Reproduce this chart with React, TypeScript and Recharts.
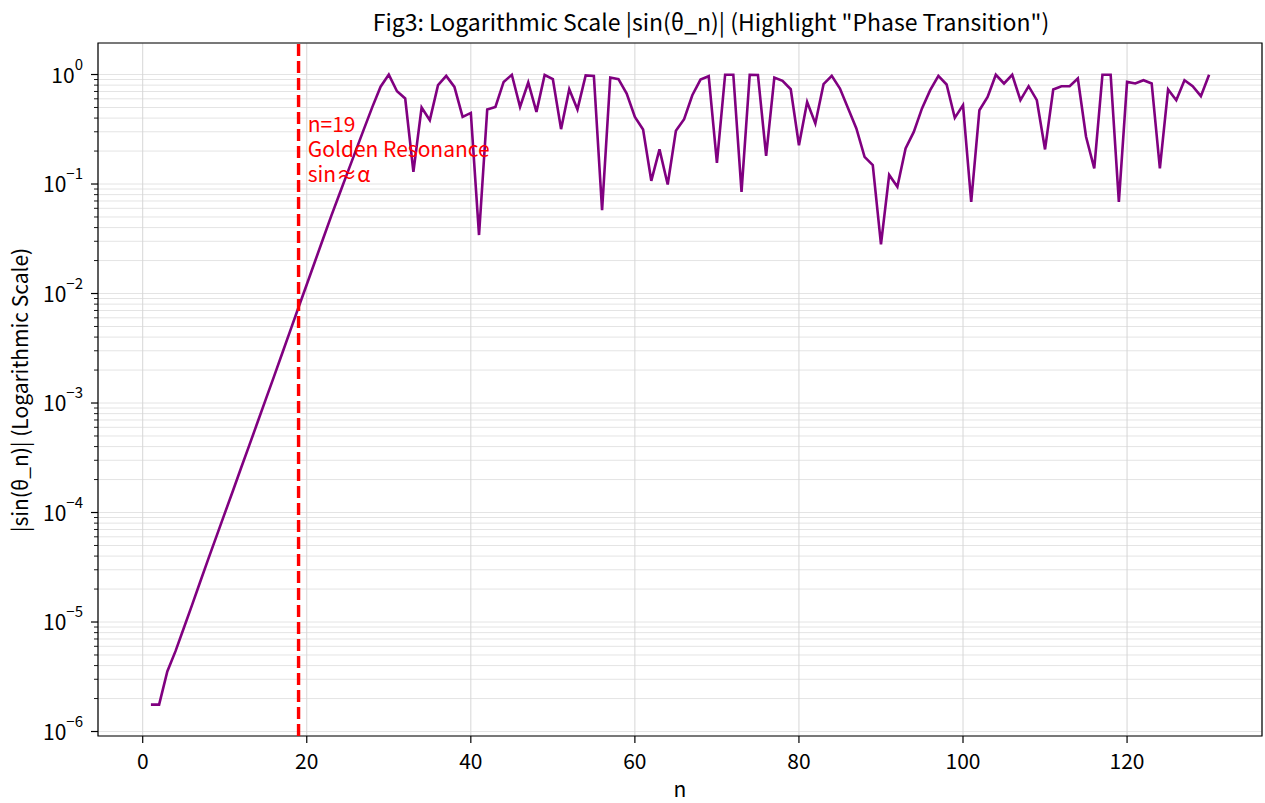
import {
  CartesianGrid,
  Line,
  LineChart,
  ReferenceArea,
  ReferenceDot,
  ReferenceLine,
  XAxis,
  YAxis,
} from "recharts";

const FONT = "'Noto Sans CJK SC', 'Noto Sans', sans-serif";

// n = 1..130
const nValues = [
  1, 2, 3, 4, 5, 6, 7, 8, 9, 10, 11, 12, 13, 14, 15, 16, 17, 18, 19, 20,
  21, 22, 23, 24, 25, 26, 27, 28, 29, 30, 31, 32, 33, 34, 35, 36, 37, 38, 39, 40,
  41, 42, 43, 44, 45, 46, 47, 48, 49, 50, 51, 52, 53, 54, 55, 56, 57, 58, 59, 60,
  61, 62, 63, 64, 65, 66, 67, 68, 69, 70, 71, 72, 73, 74, 75, 76, 77, 78, 79, 80,
  81, 82, 83, 84, 85, 86, 87, 88, 89, 90, 91, 92, 93, 94, 95, 96, 97, 98, 99, 100,
  101, 102, 103, 104, 105, 106, 107, 108, 109, 110, 111, 112, 113, 114, 115, 116, 117, 118, 119, 120,
  121, 122, 123, 124, 125, 126, 127, 128, 129, 130,
];

// |sin(theta_n)|
const sinValues = [
  1.76e-6, 1.76e-6, 3.54e-6, 5.42e-6, 8.78e-6, 1.42e-5, 2.32e-5, 3.77e-5, 6.08e-5, 9.82e-5,
  1.58e-4, 2.56e-4, 4.13e-4, 6.67e-4, 1.08e-3, 1.74e-3, 2.83e-3, 4.61e-3, 7.5e-3, 0.0121,
  0.0196, 0.0318, 0.0514, 0.0816, 0.129, 0.204, 0.322, 0.506, 0.774, 0.998,
  0.704, 0.604, 0.129, 0.5, 0.383, 0.799, 0.971, 0.77, 0.41, 0.446,
  0.0342, 0.48, 0.506, 0.856, 0.995, 0.506, 0.845, 0.456, 0.99, 0.906,
  0.317, 0.734, 0.48, 0.98, 0.97, 0.0578, 0.939, 0.906, 0.671, 0.41,
  0.315, 0.107, 0.207, 0.0991, 0.306, 0.391, 0.647, 0.9, 0.965, 0.156,
  0.995, 0.995, 0.0849, 0.995, 0.99, 0.181, 0.939, 0.874, 0.734, 0.226,
  0.562, 0.357, 0.816, 0.971, 0.745, 0.49, 0.322, 0.177, 0.149, 0.0281,
  0.121, 0.0942, 0.211, 0.299, 0.49, 0.719, 0.971, 0.811, 0.402, 0.525,
  0.0688, 0.472, 0.625, 0.995, 0.828, 0.995, 0.583, 0.782, 0.583, 0.207,
  0.73, 0.782, 0.782, 0.919, 0.27, 0.139, 0.995, 0.995, 0.0688, 0.856,
  0.828, 0.887, 0.828, 0.139, 0.73, 0.583, 0.887, 0.782, 0.634, 0.995,
];

const xTicks = [0, 20, 40, 60, 80, 100, 120];
const yMajorTicks = [1e-6, 1e-5, 1e-4, 1e-3, 1e-2, 1e-1, 1];
const yMajorExponents = ["\u22126", "\u22125", "\u22124", "\u22123", "\u22122", "\u22121", "0"];
const minorMultipliers = [2, 3, 4, 5, 6, 7, 8, 9];

const xDomain: [number, number] = [-5.45, 136.45];
const yDomain: [number, number] = [9.1e-7, 1.94];

const transitionN = 19;
const annotationLines = ["n=19", "Golden Resonance", "sin\u2248\u03b1"];

const data = nValues.map((n, i) => ({ n, v: sinValues[i] }));

const yTicks = [
  ...yMajorTicks,
  ...yMajorTicks.flatMap((m) => minorMultipliers.map((k) => k * m)),
]
  .filter((t) => t >= yDomain[0] && t <= yDomain[1])
  .sort((a, b) => a - b);

function majorIndex(v: number) {
  return yMajorTicks.findIndex((m) => Math.abs(v - m) / m < 1e-6);
}

function YTick(props: any) {
  const { x, y, payload } = props;
  const idx = majorIndex(payload.value);
  const major = idx >= 0;
  return (
    <g>
      <line
        x1={x - (major ? 7 : 4)}
        x2={x}
        y1={y}
        y2={y}
        stroke="#000"
        strokeWidth={major ? 1.2 : 0.9}
      />
      {major && (
        <text
          x={x - 15}
          y={y + 8}
          textAnchor="end"
          fontSize={21}
          fontFamily={FONT}
          fill="#000"
        >
          <tspan>10</tspan>
          <tspan dy={-13} fontSize={15}>
            {yMajorExponents[idx]}
          </tspan>
        </text>
      )}
    </g>
  );
}

function XTick(props: any) {
  const { x, y, payload } = props;
  return (
    <text
      x={x}
      y={y + 26}
      textAnchor="middle"
      fontSize={21}
      fontFamily={FONT}
      fill="#000"
    >
      {payload.value}
    </text>
  );
}

function Annotation(props: any) {
  const { cx, cy } = props;
  return (
    <text fontSize={21} fontFamily={FONT} fill="#ff0000">
      {annotationLines.map((line, i) => (
        <tspan key={line} x={cx + 1} y={cy - 52 + i * 25}>
          {line}
        </tspan>
      ))}
    </text>
  );
}

export default function App() {
  return (
    <div
      style={{
        position: "absolute",
        left: 0,
        top: 0,
        width: 1265,
        height: 803,
        background: "#fff",
        fontFamily: FONT,
      }}
    >
      <LineChart
        width={1265}
        height={803}
        data={data}
        margin={{ top: 43, right: 3, bottom: 0, left: 0 }}
      >
        <CartesianGrid
          horizontal
          vertical={false}
          stroke="#e4e4e4"
          strokeWidth={1}
        />
        <CartesianGrid
          horizontal={false}
          vertical
          stroke="#d6d6d6"
          strokeWidth={1}
        />
        <XAxis
          dataKey="n"
          type="number"
          domain={xDomain}
          ticks={xTicks}
          allowDataOverflow
          axisLine={false}
          tickLine={{ stroke: "#000", strokeWidth: 1.2 }}
          tickSize={7}
          tickMargin={0}
          tick={<XTick />}
          height={67}
        />
        <YAxis
          type="number"
          scale="log"
          domain={yDomain}
          ticks={yTicks}
          allowDataOverflow
          axisLine={false}
          tickLine={false}
          tickSize={0}
          tickMargin={0}
          tick={<YTick />}
          width={98}
          interval={0}
        />
        <Line
          type="linear"
          dataKey="v"
          stroke="#800080"
          strokeWidth={2.6}
          dot={false}
          isAnimationActive={false}
        />
        <ReferenceLine
          x={transitionN}
          stroke="#ff0000"
          strokeWidth={3.4}
          strokeDasharray="12 5"
        />
        <ReferenceDot
          x={20}
          y={0.1}
          r={0}
          shape={(p: any) => <Annotation {...p} />}
        />
        <ReferenceArea
          x1={xDomain[0]}
          x2={xDomain[1]}
          y1={yDomain[0]}
          y2={yDomain[1]}
          fill="none"
          fillOpacity={0}
          stroke="#000"
          strokeWidth={1.2}
          ifOverflow="visible"
        />
      </LineChart>
      <svg
        width={1265}
        height={803}
        style={{ position: "absolute", left: 0, top: 0, pointerEvents: "none" }}
      >
        <text x={711} y={31} textAnchor="middle" fontSize={23} fontFamily={FONT} fill="#000">
          Fig3: Logarithmic Scale |sin(θ_n)| (Highlight "Phase Transition")
        </text>
        <text x={680} y={797} textAnchor="middle" fontSize={21} fontFamily={FONT} fill="#000">
          n
        </text>
        <text
          x={28}
          y={390}
          textAnchor="middle"
          fontSize={21}
          fontFamily={FONT}
          fill="#000"
          transform="rotate(-90 28 390)"
        >
          |sin(θ_n)| (Logarithmic Scale)
        </text>
      </svg>
    </div>
  );
}
